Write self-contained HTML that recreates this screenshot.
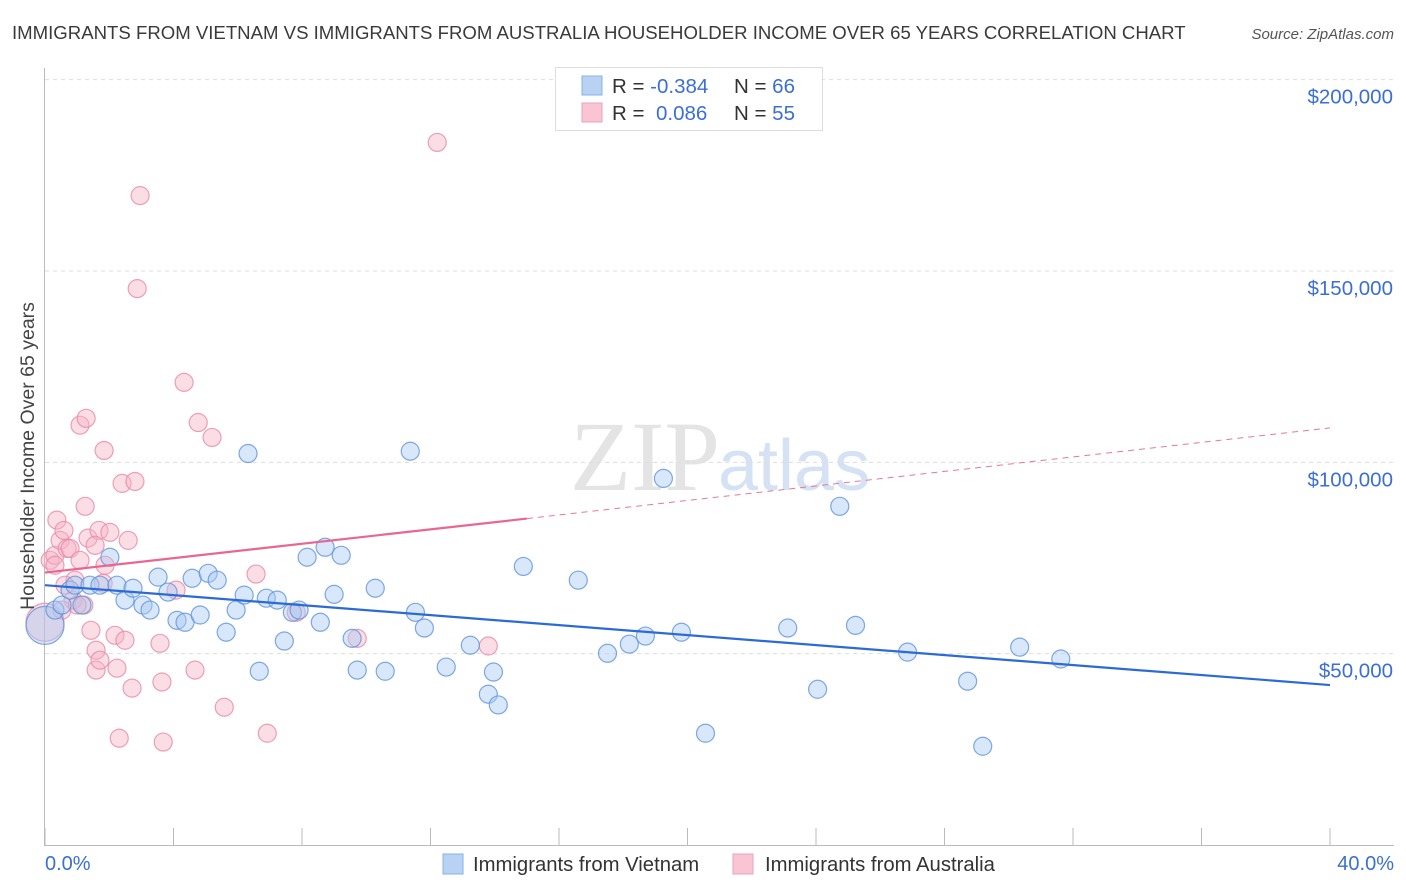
<!DOCTYPE html>
<html><head><meta charset="utf-8"><style>
body{margin:0;background:#fff;font-family:"Liberation Sans",sans-serif;}
#wrap{position:relative;width:1406px;height:892px;overflow:hidden}
</style></head><body>
<div id="wrap">
<svg id="svg" width="1406" height="892" xmlns="http://www.w3.org/2000/svg">
<text x="12" y="39" font-size="18.6" fill="#3a3a3a">IMMIGRANTS FROM VIETNAM VS IMMIGRANTS FROM AUSTRALIA HOUSEHOLDER INCOME OVER 65 YEARS CORRELATION CHART</text>
<text x="1394" y="39" font-size="15" fill="#555" font-style="italic" text-anchor="end">Source: ZipAtlas.com</text>
<text x="720" y="490" font-size="100" fill="#e4e4e4" font-family="Liberation Serif,serif" text-anchor="end">ZIP</text>
<text x="718" y="490" font-size="72" fill="#d4e2f4">atlas</text>
<g id="grid"></g><g id="axes"></g><g id="pts"></g><g id="lines"></g>
<g>
<rect x="555.5" y="67.5" width="267" height="63" fill="#fff" stroke="#ddd"/>
<rect x="582" y="76" width="20" height="19" fill="#b8d2f4" stroke="#8ab0e8"/>
<rect x="582" y="103" width="20" height="19" fill="#f9c4d4" stroke="#eea0b8"/>
<text x="612" y="93" font-size="20.5" fill="#333">R = <tspan fill="#3b6fd4">-0.384</tspan><tspan x="734">N = </tspan><tspan fill="#3b6fd4">66</tspan></text>
<text x="612" y="120" font-size="20.5" fill="#333">R = <tspan x="656" fill="#3b6fd4">0.086</tspan><tspan x="734">N = </tspan><tspan fill="#3b6fd4">55</tspan></text>
</g>
<text x="34" y="456" font-size="19.5" fill="#444" transform="rotate(-90 34 456)" text-anchor="middle">Householder Income Over 65 years</text>
<text x="45" y="870" font-size="20" fill="#3b6fd4">0.0%</text>
<text x="1394" y="870" font-size="20" fill="#3b6fd4" text-anchor="end">40.0%</text>
<g>
<rect x="443" y="854" width="20" height="20" fill="#b8d2f4" stroke="#8ab0e8"/>
<text x="473" y="871" font-size="20.3" fill="#333">Immigrants from Vietnam</text>
<rect x="733" y="854" width="20" height="20" fill="#f9c4d4" stroke="#eea0b8"/>
<text x="765" y="871" font-size="20.3" fill="#333">Immigrants from Australia</text>
</g>
</svg>
</div>
<script>
const yTicks=[50000,100000,150000,200000];
const yTickLabels=["$50,000","$100,000","$150,000","$200,000"];
const xTicks=[0,4,8,12,16,20,24,28,32,36,40];
const vietX=[0,0.31,0.53,0.78,0.93,1.15,1.4,1.71,2.02,2.24,2.49,2.74,3.05,3.27,3.52,3.83,4.11,4.36,4.58,4.83,5.08,5.36,5.64,5.95,6.2,6.32,6.67,6.89,7.23,7.45,7.7,7.91,8.16,8.57,8.72,9.0,9.22,9.56,9.72,10.28,10.59,11.37,11.53,11.81,12.49,13.24,13.8,13.96,14.11,14.89,16.6,17.51,18.19,18.69,19.25,19.81,20.56,23.12,24.05,24.74,25.23,26.85,28.72,29.19,30.34,31.62];
const vietY=[57.4,61.4,62.7,66.6,67.9,62.7,67.9,67.9,75.2,67.9,64.0,67.1,62.7,61.4,70.0,66.1,58.7,58.2,69.7,60.1,71.0,69.2,55.6,61.4,65.3,102.3,45.4,64.5,64.0,53.3,60.8,61.4,75.2,58.2,77.8,65.5,75.7,54.0,45.7,67.1,45.4,102.9,60.8,56.7,46.5,52.2,39.4,45.2,36.6,72.8,69.2,50.1,52.5,54.6,95.8,55.6,29.2,56.7,40.7,88.5,57.4,50.4,42.8,25.8,51.7,48.6];
const ausX=[0,0.16,0.31,0.37,0.47,0.59,0.69,0.78,0.87,0.93,1.09,1.21,1.28,1.25,1.34,1.43,1.59,1.59,1.68,1.71,1.84,1.87,1.81,2.02,2.18,2.24,2.31,2.4,2.49,2.59,2.71,2.8,2.87,2.96,3.58,3.68,3.64,4.08,4.33,4.67,4.77,5.2,5.58,6.57,6.92,7.82,9.72,12.21,13.8,0.53,1.0,1.56,1.09,0.31,0.62];
const ausY=[58.2,74.4,75.7,84.9,79.6,82.2,77.5,77.5,64.0,69.2,109.7,62.7,111.5,88.5,80.2,56.1,50.9,45.7,82.2,48.3,103.1,73.1,68.4,81.7,54.8,46.2,27.9,94.5,53.5,79.6,41.0,95.0,145.4,169.7,52.7,26.9,42.6,66.6,120.9,45.7,110.4,106.5,36.0,70.8,29.2,60.8,54.0,183.6,52.0,61.4,62.7,78.3,74.4,73.1,67.9];
const vietTrend=[[0,67.9],[40,41.8]];
const ausTrend=[[0,71.2],[15,85.3],[40,109.0]];
const NS="http://www.w3.org/2000/svg";
const sx=v=>45+v*32.125, sy=v=>845-v*3.8267;
function mk(t,a,p){const e=document.createElementNS(NS,t);for(const k in a)e.setAttribute(k,a[k]);p.appendChild(e);return e;}
const grid=document.getElementById('grid'),axes=document.getElementById('axes'),pts=document.getElementById('pts'),lines=document.getElementById('lines');
yTicks.forEach((t,i)=>{
 const l=mk('line',{x1:45,x2:1394,y1:sy(t/1000),y2:sy(t/1000),stroke:'#ddd','stroke-dasharray':'4,4'},grid);
 
 
 const tx=mk('text',{x:1393,y:sy(t/1000)+24,'font-size':20.5,fill:'#3b6fd4','text-anchor':'end'},grid);
 tx.textContent=yTickLabels[i];
 
 
});
mk('line',{x1:44.5,x2:44.5,y1:68,y2:845,stroke:'#bbb'},axes);
mk('line',{x1:44,x2:1394,y1:845.5,y2:845.5,stroke:'#bbb'},axes);
xTicks.forEach(t=>{const l=mk('line',{x1:sx(t),x2:sx(t),y1:828,y2:845,stroke:'#bbb'},axes);
 
 });
function dots(X,Y,fill,stroke,name){X.forEach((x,i)=>{const c=mk('circle',{cx:sx(x),cy:sy(Y[i]),r:(x===0?19:9),fill:fill,'fill-opacity':0.45,stroke:stroke,'stroke-opacity':0.8,'stroke-width':1.2},pts);
 
 });}
dots(ausX,ausY,'#f7b3c8','#e88aa8','point-australia');
dots(vietX,vietY,'#a9c9f1','#5f93dc','point-vietnam');
const vl=mk('line',{x1:sx(vietTrend[0][0]),y1:sy(vietTrend[0][1]),x2:sx(vietTrend[1][0]),y2:sy(vietTrend[1][1]),stroke:'#2c6bd6','stroke-width':2.2},lines);


const al=mk('line',{x1:sx(ausTrend[0][0]),y1:sy(ausTrend[0][1]),x2:sx(ausTrend[1][0]),y2:sy(ausTrend[1][1]),stroke:'#e8668f','stroke-width':2.2},lines);


const ad=mk('line',{x1:sx(ausTrend[1][0]),y1:sy(ausTrend[1][1]),x2:sx(ausTrend[2][0]),y2:sy(ausTrend[2][1]),stroke:'#e8779a','stroke-width':1,'stroke-dasharray':'6,5'},lines);


</script>
</body></html>
